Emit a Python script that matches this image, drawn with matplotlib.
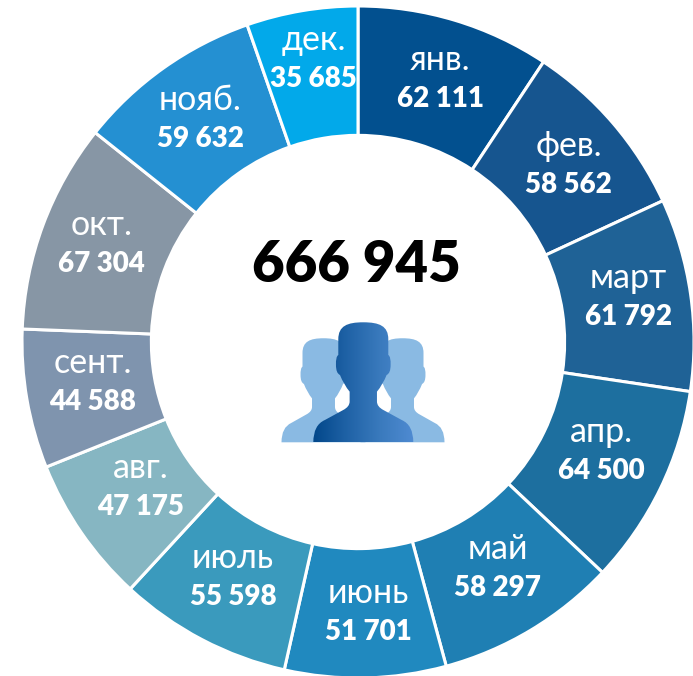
"""Donut chart of monthly counts with a people icon in the centre."""
import matplotlib
matplotlib.use("Agg")
import matplotlib.pyplot as plt
import numpy as np
from matplotlib.patches import PathPatch
from matplotlib.path import Path

months = ['янв.', 'фев.', 'март', 'апр.', 'май', 'июнь',
          'июль', 'авг.', 'сент.', 'окт.', 'нояб.', 'дек.']
values = [62111, 58562, 61792, 64500, 58297, 51701,
          55598, 47175, 44588, 67304, 59632, 35685]
value_labels = ['62 111', '58 562', '61 792', '64 500', '58 297', '51 701',
                '55 598', '47 175', '44 588', '67 304', '59 632', '35 685']
colors = ['#02508f', '#16558f', '#1f6296', '#1d6f9f', '#1f7fb3', '#2089bf',
          '#3a9abd', '#86b6c2', '#7f94ae', '#8796a5', '#2490d2', '#02a9ea']
total_label = '666 945'

# hand nudges of each label pair away from the ring's mid radius, in pixels
label_dx = [4, 5, 2, -1, 0, 4, 1, 6, 2, -2, -1, 1]
label_dy = [-3, 0, -6, -10, -7, -1, -5, -9, -6, -3, -2, -16]

W, H = 693, 676
CX, CY, R = 358, 342, 336
HOLE = 0.615

plt.rcParams['font.family'] = ['Lato', 'Open Sans', 'DejaVu Sans']

fig = plt.figure(figsize=(W / 100, H / 100), dpi=100)
ax = fig.add_axes([0, 0, 1, 1])

wedges, _ = ax.pie(values, colors=colors, startangle=90, counterclock=False,
                   center=(CX, CY), radius=R, frame=True,
                   wedgeprops=dict(width=R * (1 - HOLE), edgecolor='white', linewidth=2.2))
ax.set_xlim(0, W)
ax.set_ylim(H, 0)
ax.set_aspect('auto')
ax.axis('off')

# y axis is inverted, so pie angles come out mirrored; redo them by hand
cum = np.cumsum([0] + values) / sum(values)
for w, a, b in zip(wedges, cum[:-1], cum[1:]):
    w.set_theta1(-90 + a * 360)
    w.set_theta2(-90 + b * 360)

rmid = R * (1 + HOLE) / 2
for i, (m, lab) in enumerate(zip(months, value_labels)):
    t = (cum[i] + cum[i + 1]) / 2 * 2 * np.pi
    x = CX + rmid * np.sin(t) + label_dx[i]
    y = CY - rmid * np.cos(t) + label_dy[i]
    ax.text(x, y - 19, m, color='white', fontsize=24.5, ha='center', va='center')
    ax.text(x, y + 20, lab, color='white', fontsize=20, fontweight='heavy',
            ha='center', va='center')

ax.text(CX - 2, 265, total_label, color='black', fontsize=40.5, fontweight='heavy',
        ha='center', va='center')

# right half of the figure outline, traced from the icon: dx from axis, y from top
HALF = [(Path.MOVETO, (0, 37)),
        (Path.CURVE4, (48, 37)), (Path.CURVE4, (75, 48)), (Path.CURVE4, (75, 88)),
        (Path.LINETO, (75, 135)),
        (Path.CURVE3, (83, 140)), (Path.CURVE3, (82, 165)),
        (Path.CURVE3, (82, 190)), (Path.CURVE3, (70, 195)),
        (Path.CURVE3, (58, 225)), (Path.CURVE3, (41, 245)),
        (Path.LINETO, (41, 275)),
        (Path.CURVE3, (41, 290)), (Path.CURVE3, (60, 300)),
        (Path.LINETO, (115, 330)),
        (Path.CURVE3, (150, 345)), (Path.CURVE3, (150, 397))]


def figure_path(cx, sx, sy):
    """Icon outline in pixels, zoom-crop units divided by 3, anchored at y=442."""
    pts = [p for _, p in HALF]
    codes = [c for c, _ in HALF]
    right = [(cx + dx * sx / 3, 442.3 - (397 - y) * sy / 3) for dx, y in pts]
    left = [(cx - dx * sx / 3, 442.3 - (397 - y) * sy / 3) for dx, y in reversed(pts)]
    verts = right + [(left[0][0], left[0][1])] + left[1:] + [right[0]]
    # the mirrored half runs backwards, so its curve codes stay in groups
    mirrored = list(reversed(codes[1:]))
    all_codes = codes + [Path.LINETO] + mirrored + [Path.CLOSEPOLY]
    return Path(verts, all_codes)


for cx in (323.5, 402.5):
    ax.add_patch(PathPatch(figure_path(cx, 0.84, 0.867), facecolor='#8abae3',
                           edgecolor='none', zorder=3))

front = PathPatch(figure_path(363.3, 1.0, 1.0), facecolor='none', edgecolor='none', zorder=4)
ax.add_patch(front)
grad = np.linspace(0, 1, 256).reshape(1, -1)
cmap = matplotlib.colors.LinearSegmentedColormap.from_list(
    'icon', ['#02478a', '#1f62a6', '#3a7abd', '#4f8bd2'])
im = ax.imshow(grad, extent=(313, 414, 442.3, 322), cmap=cmap, aspect='auto', zorder=4)
im.set_clip_path(front)
ax.set_xlim(0, W)
ax.set_ylim(H, 0)

fig.savefig('out.png', dpi=100)
